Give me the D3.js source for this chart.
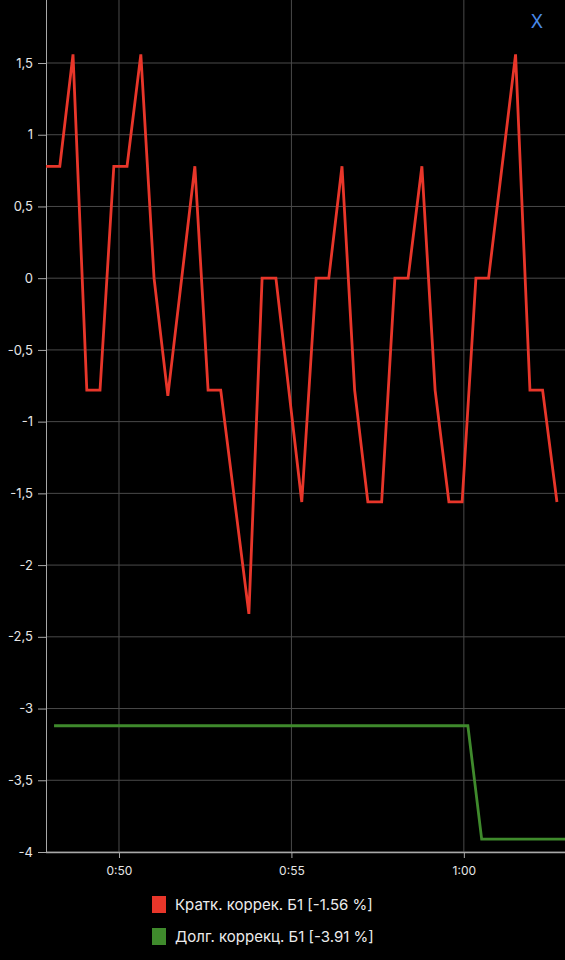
<!DOCTYPE html>
<meta charset="utf-8">
<style>
    body { margin: 0; background: #000; }
    svg { display: block; }
    text { font-family: Inter, Roboto, "Liberation Sans", sans-serif; }
    .grid line { stroke: #4a4a4a; stroke-width: 1; }
    .axis path, .axis line { stroke: #a8a8a8; }
    .axis text { fill: #e6e6e6; }
</style>
<body>
<script src="https://d3js.org/d3.v7.min.js"></script>
<script>

// times are "m:ss" after 0:00
var shortTimes = ["47:53","48:17","48:40","49:04","49:27","49:51","50:14","50:38","51:01","51:25",
                  "52:12","52:35","52:57","53:46","54:09","54:33","55:18","55:43","56:05","56:28",
                  "56:50","57:13","57:37","58:00","58:23","58:47","59:10","59:34","59:57","60:21",
                  "60:43","61:30","61:55","62:17","62:42"];
var shortValues = [0.78,0.78,1.56,-0.78,-0.78,0.78,0.78,1.56,0,-0.82,
                   0.78,-0.78,-0.78,-2.34,0,0,-1.56,0,0,0.78,
                   -0.78,-1.56,-1.56,0,0,0.78,-0.78,-1.56,-1.56,0,
                   0,1.56,-0.78,-0.78,-1.56];

var longTimes = ["48:07","60:07","60:31","62:56"];
var longValues = [-3.12,-3.12,-3.91,-3.91];

var yTicks = [1.5,1,0.5,0,-0.5,-1,-1.5,-2,-2.5,-3,-3.5,-4];
var legendLabels = ["Кратк. коррек. Б1 [-1.56 %]", "Долг. коррекц. Б1 [-3.91 %]"];
var colors = ["#e8362a", "#3f8a2c"];

var W = 565, H = 960;
var left = 46, right = 565, bottom = 852;

function toDate(s) {
    var p = s.split(":");
    return new Date(2000, 0, 1, 0, +p[0], +p[1]);
}

var x = d3.scaleTime()
    .domain([toDate("47:53"), toDate("62:56")])
    .range([left, right]);

var y = d3.scaleLinear()
    .domain([-4, 1.5])
    .range([bottom, 63]);

var svg = d3.select("body").append("svg")
    .attr("width", W)
    .attr("height", H);

var xTicks = x.ticks(d3.timeMinute.every(5));

// grid
var grid = svg.append("g").attr("class", "grid");
grid.selectAll("line.h").data(yTicks).enter().append("line")
    .attr("x1", left).attr("x2", right)
    .attr("y1", function(d) { return y(d); })
    .attr("y2", function(d) { return y(d); });
grid.selectAll("line.v").data(xTicks).enter().append("line")
    .attr("x1", function(d) { return x(d); })
    .attr("x2", function(d) { return x(d); })
    .attr("y1", 0).attr("y2", bottom);

// axes
var yAxis = d3.axisLeft(y)
    .tickValues(yTicks)
    .tickSize(8)
    .tickPadding(5)
    .tickFormat(function(d) { return String(d).replace(".", ","); });

var gy = svg.append("g")
    .attr("class", "axis")
    .attr("transform", "translate(" + left + ",0)")
    .call(yAxis);
gy.select(".domain").remove();
gy.selectAll("text").style("font-size", "13px");
svg.append("line")
    .attr("x1", left + 0.5).attr("x2", left + 0.5)
    .attr("y1", 0).attr("y2", bottom)
    .attr("stroke", "#a8a8a8");

var xAxis = d3.axisBottom(x)
    .tickValues(xTicks)
    .tickSize(6)
    .tickPadding(8)
    .tickFormat(d3.timeFormat("%-H:%M"));

var gx = svg.append("g")
    .attr("class", "axis")
    .attr("transform", "translate(0," + bottom + ")")
    .call(xAxis);
gx.select(".domain").remove();
gx.selectAll("text").style("font-size", "12px");
svg.append("line")
    .attr("x1", left).attr("x2", right)
    .attr("y1", bottom + 0.5).attr("y2", bottom + 0.5)
    .attr("stroke", "#a8a8a8")
    .attr("stroke-width", 1.5);

// lines
var line = d3.line()
    .x(function(d) { return x(toDate(d[0])); })
    .y(function(d) { return y(d[1]); });

svg.append("path")
    .datum(d3.zip(longTimes, longValues))
    .attr("fill", "none")
    .attr("stroke", colors[1])
    .attr("stroke-width", 2.8)
    .attr("d", line);

svg.append("path")
    .datum(d3.zip(shortTimes, shortValues))
    .attr("fill", "none")
    .attr("stroke", colors[0])
    .attr("stroke-width", 2.8)
    .attr("d", line);

// legend
var legend = svg.append("g").attr("transform", "translate(152,896)");
var items = legend.selectAll("g").data(legendLabels).enter().append("g")
    .attr("transform", function(d, i) { return "translate(0," + (i * 32) + ")"; });
items.append("rect")
    .attr("width", 14).attr("height", 17)
    .attr("fill", function(d, i) { return colors[i]; });
items.append("text")
    .attr("x", 23).attr("y", 9)
    .attr("dy", "0.35em")
    .attr("fill", "#ececec")
    .style("font-size", "15px")
    .text(function(d) { return d; });

// close button
svg.append("text")
    .attr("x", 537).attr("y", 22)
    .attr("dy", "0.35em")
    .attr("text-anchor", "middle")
    .attr("fill", "#4a8ae8")
    .style("font-size", "18px")
    .text("X");

</script>
</body>
